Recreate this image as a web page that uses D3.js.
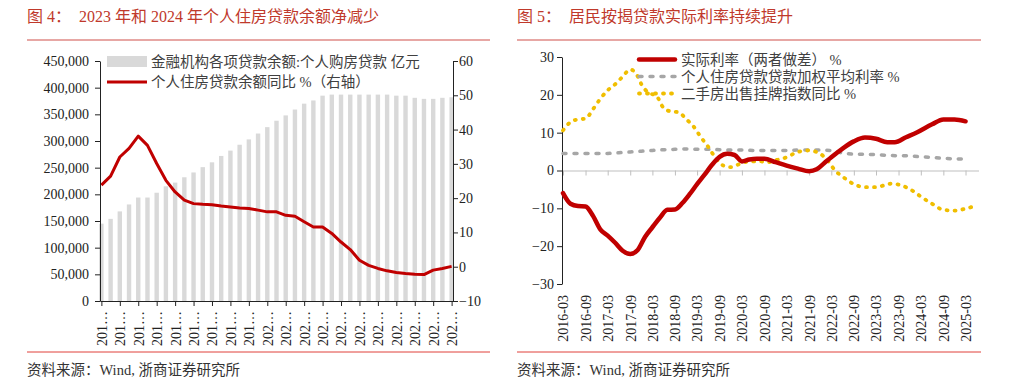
<!DOCTYPE html>
<html>
<head>
<meta charset="utf-8">
<script src="https://cdn.jsdelivr.net/npm/d3@7"></script>
<style>
  body { margin: 0; background: #fff; }
  svg { display: block; font-family: "Liberation Serif", "Noto Sans CJK SC", serif; }
</style>
</head>
<body>
<svg id="chart" width="1024" height="391"></svg>
<script>
// ---- figure 4: housing loan balance (bars, 亿元) and yoy (line, right axis)
const quarters = ["2015-12","2016-03","2016-06","2016-09","2016-12","2017-03","2017-06","2017-09","2017-12",
  "2018-03","2018-06","2018-09","2018-12","2019-03","2019-06","2019-09","2019-12","2020-03","2020-06",
  "2020-09","2020-12","2021-03","2021-06","2021-09","2021-12","2022-03","2022-06","2022-09","2022-12",
  "2023-03","2023-06","2023-09","2023-12","2024-03","2024-06","2024-09","2024-12","2025-03","2025-06"];
const loanBalance = [145000,154000,168000,181000,194000,194000,203000,215000,222000,232000,241000,251000,
  260000,272000,282000,293000,303000,314000,326000,338000,348000,359000,370000,376000,385000,387000,
  387000,387000,387000,387000,387000,387000,385000,385000,381000,379000,379000,381000,382000];
const loanYoY = [23.8,26.4,32.0,34.5,38.1,35.4,30.1,25.2,21.8,19.4,18.4,18.2,18.1,17.7,17.4,17.1,17.0,16.5,
  16.0,16.0,15.0,14.7,13.1,11.6,11.6,9.7,7.2,5.0,1.9,0.4,-0.5,-1.2,-1.7,-2.0,-2.2,-2.3,-1.0,-0.5,0.1];

// ---- figure 5: real mortgage rate
const realRateDates = ["2016-03","2016-05","2016-07","2016-09","2016-11","2017-01","2017-03","2017-05","2017-07",
  "2017-09","2017-11","2018-01","2018-03","2018-05","2018-07","2018-09","2018-11","2019-01","2019-03","2019-05",
  "2019-07","2019-09","2019-11","2020-01","2020-03","2020-05","2020-07","2020-09","2020-12","2021-03","2021-06",
  "2021-09","2021-11","2022-01","2022-03","2022-06","2022-09","2022-12","2023-03","2023-06","2023-08","2023-11",
  "2024-02","2024-06","2024-09","2024-12","2025-03"];
const realRate = [-6.0,-8.8,-9.4,-9.5,-12.0,-15.6,-17.2,-19.1,-21.2,-22.1,-21.0,-17.5,-15.0,-12.5,-10.4,-10.3,
  -8.6,-6.2,-3.6,-1.1,1.5,3.6,4.4,4.1,2.4,2.9,3.1,3.1,2.2,1.3,0.5,-0.2,0.3,1.9,3.5,5.8,7.7,8.7,8.4,7.5,7.5,8.8,
  10.1,12.2,13.5,13.5,13.0];
const mortgageRateDates = ["2016-03","2016-06","2016-09","2016-12","2017-03","2017-06","2017-09","2017-12",
  "2018-03","2018-06","2018-09","2018-12","2019-03","2019-06","2019-09","2019-12","2020-03","2020-06","2020-09",
  "2020-12","2021-03","2021-06","2021-09","2021-12","2022-03","2022-06","2022-09","2022-12","2023-03","2023-06",
  "2023-09","2023-12","2024-03","2024-06","2024-09","2024-12","2025-03"];
const mortgageRate = [4.5,4.5,4.5,4.5,4.5,4.7,4.9,5.1,5.3,5.5,5.6,5.7,5.6,5.6,5.5,5.4,5.4,5.3,5.3,5.3,5.3,5.4,
  5.4,5.4,5.3,4.6,4.3,4.3,4.2,4.0,3.9,3.9,3.6,3.5,3.2,3.1,3.0];
const listingDates = ["2016-03","2016-05","2016-07","2016-09","2016-11","2017-01","2017-03","2017-05","2017-07",
  "2017-09","2017-11","2017-12","2018-02","2018-04","2018-06","2018-08","2018-10","2018-12","2019-02","2019-04",
  "2019-06","2019-08","2019-10","2019-12","2020-02","2020-05","2020-08","2020-10","2020-12","2021-03","2021-06",
  "2021-09","2021-12","2022-02","2022-04","2022-06","2022-09","2022-12","2023-03","2023-07","2023-10","2024-01",
  "2024-03","2024-06","2024-09","2024-12","2025-03","2025-06"];
const listingYoY = [10.6,12.8,13.5,13.7,16.2,19.0,21.2,22.8,24.8,26.7,24.9,22.8,20.5,19.8,16.5,15.6,15.4,13.6,
  11.6,8.8,6.2,3.2,1.3,0.9,1.6,2.4,2.4,2.2,2.7,3.5,4.9,5.3,4.4,2.6,0.0,-1.6,-3.6,-4.4,-4.4,-3.5,-4.0,-5.5,-6.9,
  -8.8,-10.4,-10.6,-10.1,-9.2];
const rightTicks = ["2016-03","2016-09","2017-03","2017-09","2018-03","2018-09","2019-03","2019-09","2020-03",
  "2020-09","2021-03","2021-09","2022-03","2022-09","2023-03","2023-09","2024-03","2024-09","2025-03"];

const red = "#c00000";
const svg = d3.select("#chart");
const parse = d3.timeParse("%Y-%m");

function styleAxis(g, color) {
  g.attr("font-family", null).attr("font-size", 14).attr("color", color);
}

function frame(x0, x1, title) {
  svg.append("text").attr("x", x0).attr("y", 21.5)
    .attr("fill", "#c0392b").attr("font-size", 16)
    .style("white-space", "pre").text(title);
  svg.append("line").attr("x1", x0).attr("x2", x1).attr("y1", 40).attr("y2", 40)
    .attr("stroke", "#d0504a").attr("stroke-width", 1.2);
  svg.append("line").attr("x1", x0).attr("x2", x1).attr("y1", 352).attr("y2", 352)
    .attr("stroke", "#e0403a").attr("stroke-width", 1);
  svg.append("text").attr("x", x0).attr("y", 374.5)
    .attr("fill", "#333").attr("font-size", 14.5).text("资料来源：Wind, 浙商证券研究所");
}

frame(27, 490, "图 4：  2023 年和 2024 年个人住房贷款余额净减少");
frame(517, 981, "图 5：  居民按揭贷款实际利率持续提升");

// ---------------- left chart
const L = svg.append("g");
const xL = d3.scalePoint().domain(quarters).range([100, 453]).padding(0.15);
const yL = d3.scaleLinear().domain([0, 450000]).range([301, 61]);
const yR = d3.scaleLinear().domain([-10, 60]).range([301, 61]);

L.selectAll("rect.bar").data(loanBalance).join("rect")
  .attr("class", "bar")
  .attr("x", (d, i) => xL(quarters[i]) - 2.2)
  .attr("width", 4.4)
  .attr("y", d => yL(d))
  .attr("height", d => yL(0) - yL(d))
  .attr("fill", "#d9d9d9");

L.append("path").datum(loanYoY)
  .attr("d", d3.line().x((d, i) => xL(quarters[i])).y(d => yR(d)))
  .attr("fill", "none").attr("stroke", red).attr("stroke-width", 3)
  .attr("stroke-linejoin", "round");

L.append("g").attr("transform", "translate(100,0)")
  .call(d3.axisLeft(yL).tickValues(d3.range(0, 450001, 50000)).tickFormat(d3.format(","))
    .tickSize(5).tickPadding(6).tickSizeOuter(0))
  .call(styleAxis, "#222");

L.append("g").attr("transform", "translate(453,0)")
  .call(d3.axisRight(yR).tickValues(d3.range(-10, 61, 10)).tickSize(5).tickPadding(1).tickSizeOuter(0))
  .call(styleAxis, "#222");

L.append("g").attr("transform", "translate(0,301)")
  .call(d3.axisBottom(xL).tickValues(quarters.filter((d, i) => i % 2 === 0))
    .tickFormat(d => d.slice(0, 3) + "…").tickSize(5).tickSizeOuter(0))
  .call(styleAxis, "#222")
  .selectAll("text")
  .attr("transform", "rotate(-90)")
  .attr("x", -10).attr("y", 0).attr("dy", "0.35em")
  .attr("text-anchor", "end");

// legend
const legL = L.append("g").attr("font-size", 14.5).attr("fill", "#404040");
legL.append("rect").attr("x", 107).attr("y", 56).attr("width", 40).attr("height", 11).attr("fill", "#d9d9d9");
legL.append("text").attr("x", 151).attr("y", 61.5).attr("dy", "0.35em").text("金融机构各项贷款余额:个人购房贷款 亿元");
legL.append("line").attr("x1", 107).attr("x2", 147).attr("y1", 82).attr("y2", 82)
  .attr("stroke", red).attr("stroke-width", 3);
legL.append("text").attr("x", 151).attr("y", 82).attr("dy", "0.35em").text("个人住房贷款余额同比 %（右轴）");

// ---------------- right chart
const R = svg.append("g");
const xT = d3.scaleTime()
  .domain([parse(rightTicks[0]), d3.timeDay.offset(parse(listingDates[listingDates.length - 1]), 14)])
  .range([563, 978.5]);
const yT = d3.scaleLinear().domain([-30, 30]).range([284, 57]);

R.append("g").attr("transform", `translate(0,${yT(0)})`)
  .call(d3.axisBottom(xT).tickValues(rightTicks.map(parse)).tickFormat("").tickSize(5).tickSizeOuter(0))
  .call(styleAxis, "#bfbfbf");

R.append("g").attr("transform", "translate(0,284)")
  .call(d3.axisBottom(xT).tickValues(rightTicks.map(parse)).tickFormat(d3.timeFormat("%Y-%m")).tickSize(0))
  .call(styleAxis, "#222")
  .call(g => g.select(".domain").remove())
  .selectAll("text")
  .attr("transform", "rotate(-90)")
  .attr("x", -11).attr("y", 0).attr("dy", "0.35em")
  .attr("text-anchor", "end");

R.append("g").attr("transform", "translate(562,0)")
  .call(d3.axisLeft(yT).tickValues(d3.range(-30, 31, 10)).tickSize(5).tickPadding(3).tickSizeOuter(0))
  .call(styleAxis, "#222");

const series = [
  { dates: mortgageRateDates, values: mortgageRate, color: "#a6a6a6", width: 3.5, dash: "3,8", curve: d3.curveLinear },
  { dates: listingDates, values: listingYoY, color: "#f0be00", width: 3.8, dash: "1,7", curve: d3.curveMonotoneX },
  { dates: realRateDates, values: realRate, color: red, width: 4.5, dash: null, curve: d3.curveMonotoneX }
];

series.forEach(s => {
  const pts = s.dates.map((d, i) => [parse(d), s.values[i]]);
  R.append("path").datum(pts)
    .attr("d", d3.line().x(d => xT(d[0])).y(d => yT(d[1])).curve(s.curve))
    .attr("fill", "none").attr("stroke", s.color).attr("stroke-width", s.width)
    .attr("stroke-dasharray", s.dash).attr("stroke-linecap", "round").attr("stroke-linejoin", "round");
});

const legR = R.append("g").attr("font-size", 14.5).attr("fill", "#404040");
const legItems = [
  { label: "实际利率（两者做差） %", s: series[2], y: 59.5 },
  { label: "个人住房贷款贷款加权平均利率 %", s: series[0], y: 76.5 },
  { label: "二手房出售挂牌指数同比 %", s: series[1], y: 93.5 }
];
legItems.forEach(it => {
  legR.append("line").attr("x1", 639).attr("x2", 675).attr("y1", it.y).attr("y2", it.y)
    .attr("stroke", it.s.color).attr("stroke-width", it.s.width)
    .attr("stroke-dasharray", it.s.dash).attr("stroke-linecap", "round");
  legR.append("text").attr("x", 681).attr("y", it.y).attr("dy", "0.35em")
    .style("white-space", "pre").text(it.label);
});
</script>
</body>
</html>
